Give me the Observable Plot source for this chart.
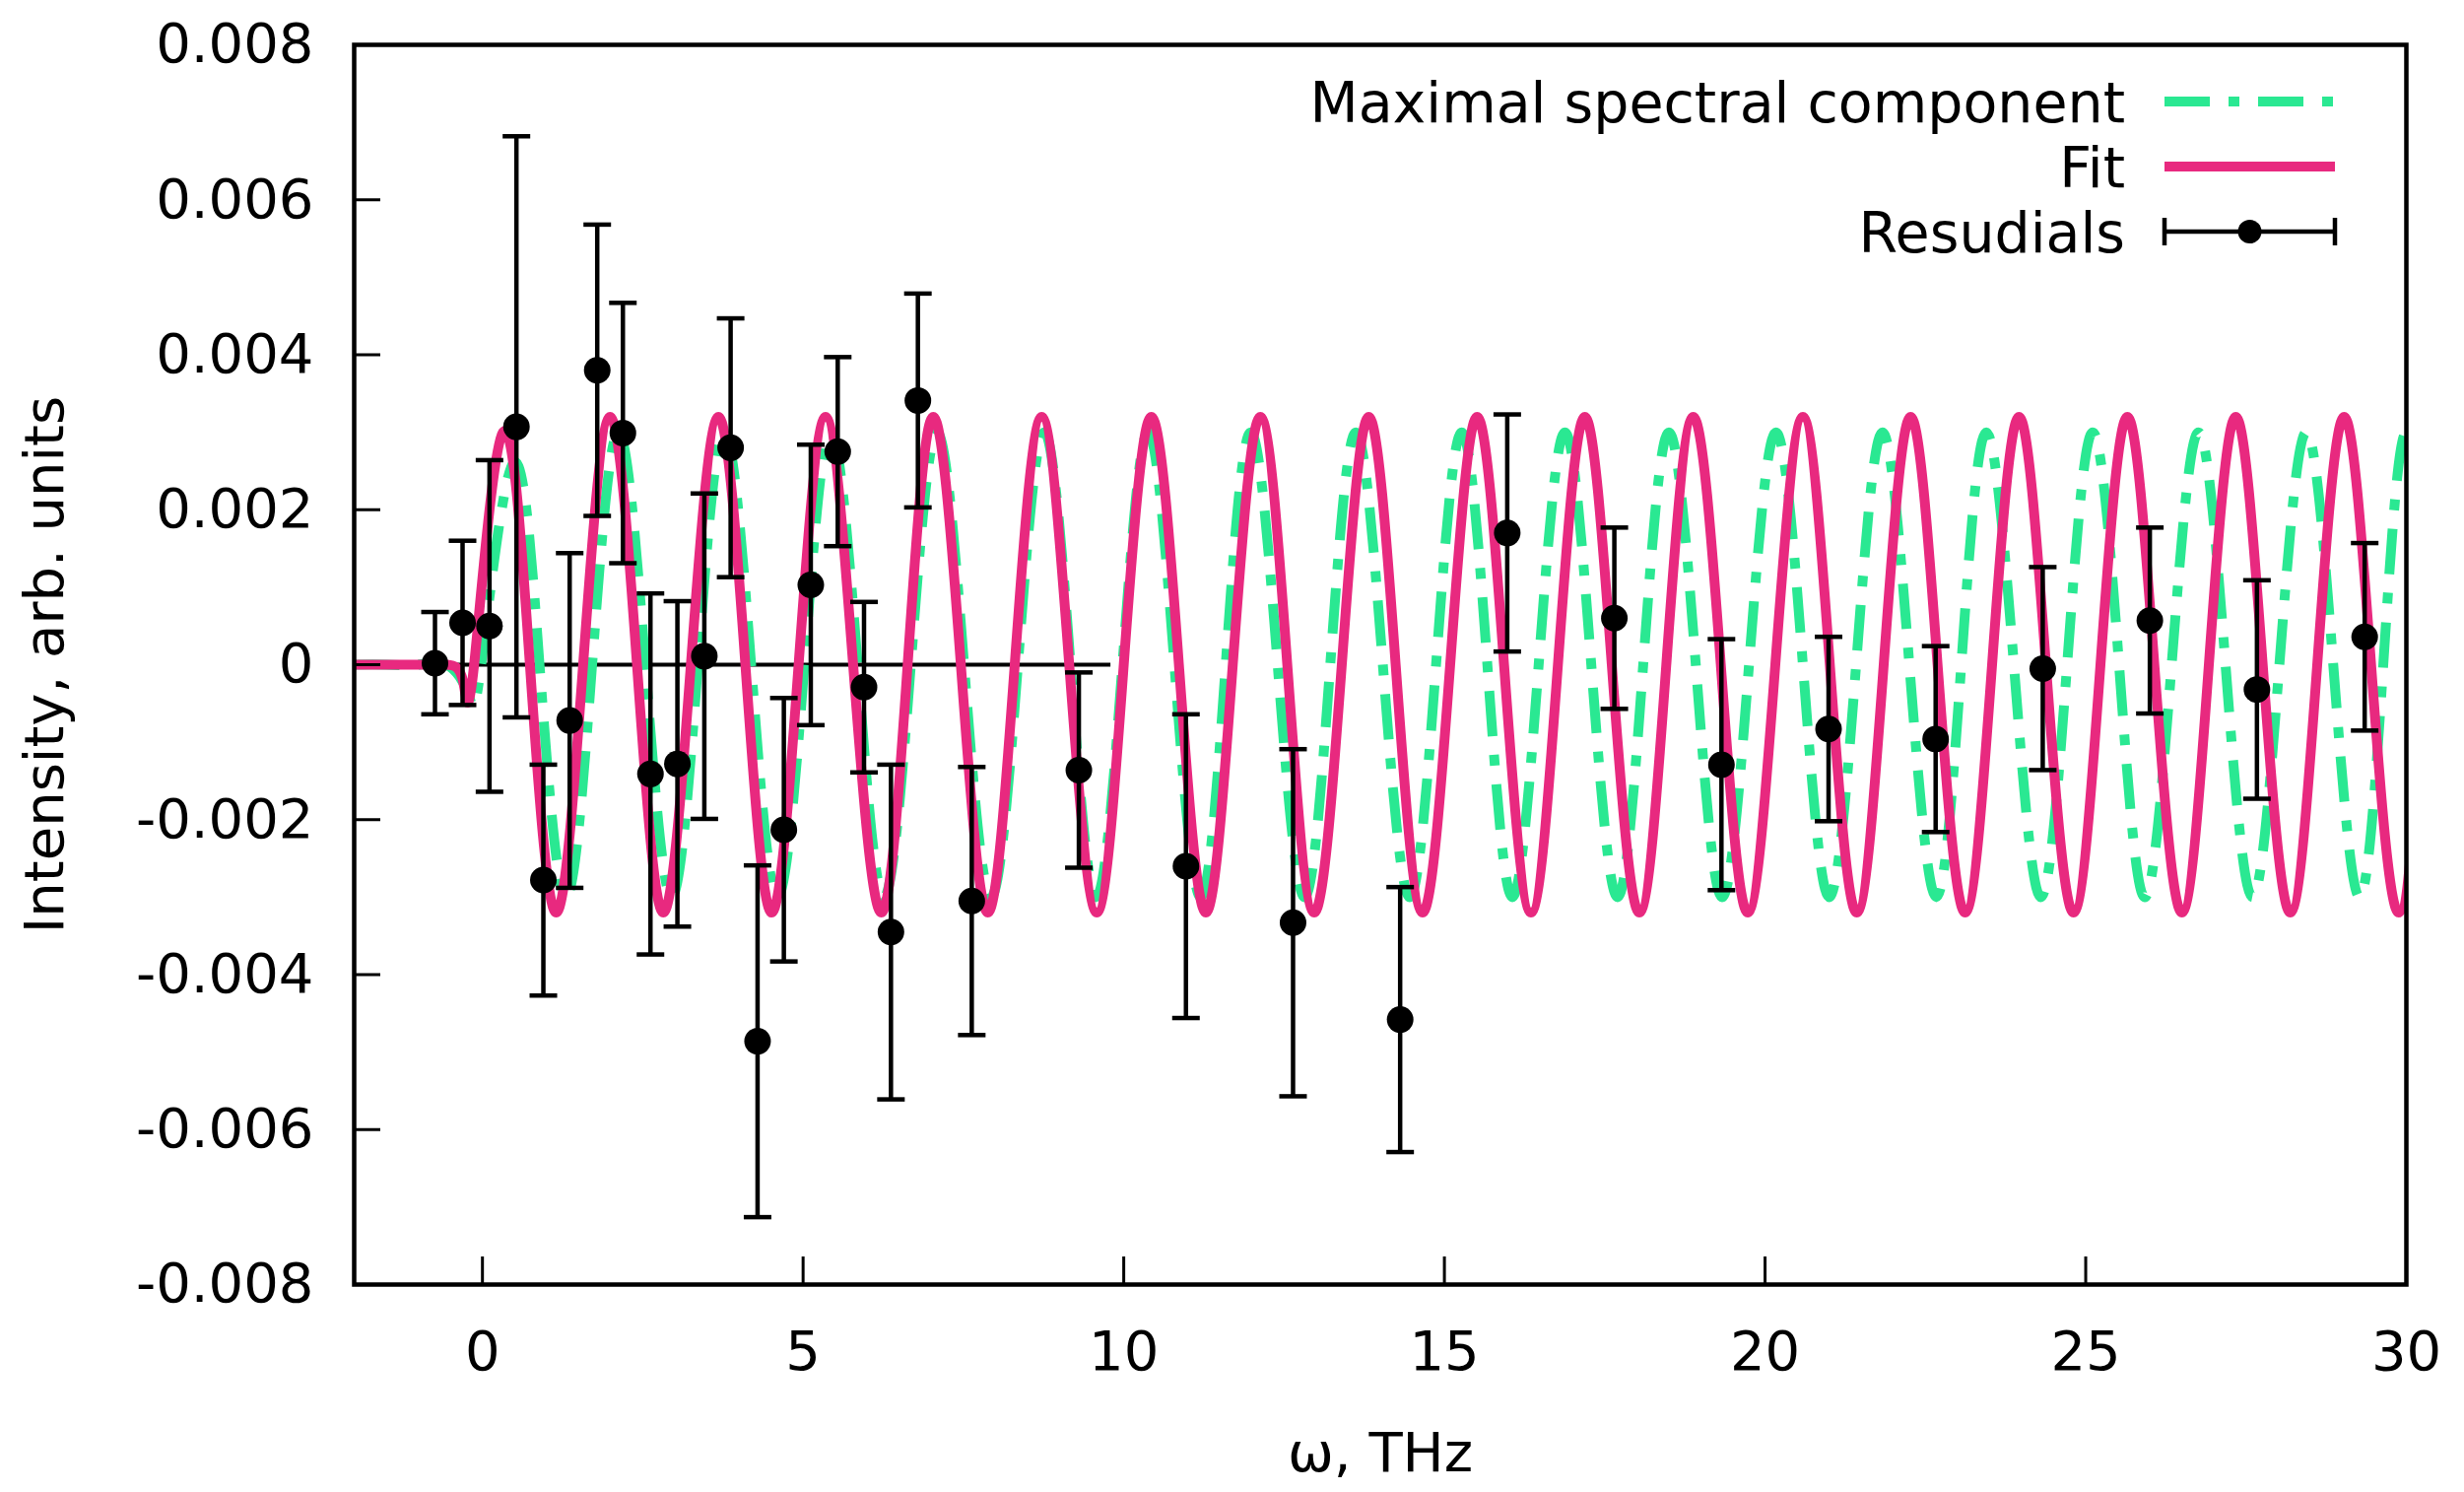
<!DOCTYPE html>
<html>
<head>
<meta charset="utf-8">
<script src="https://cdn.jsdelivr.net/npm/d3@7"></script>
<script src="https://cdn.jsdelivr.net/npm/@observablehq/plot@0.6"></script>
<style>
  html, body { margin: 0; padding: 0; background: #fff; }
  #chart svg { display: block; }
</style>
</head>
<body>
<div id="chart"></div>
<script>
// ---------- data ----------
const seriesNames = ["Maximal spectral component", "Fit", "Resudials"];
const xLabel = "ω, THz";
const yLabel = "Intensity, arb. units";
const xTicks = [0, 5, 10, 15, 20, 25, 30];
const yTicks = [-0.008, -0.006, -0.004, -0.002, 0, 0.002, 0.004, 0.006, 0.008];

// Fit curve (peaks, troughs and zero crossings)
const fitX = [-2, -1.5, -1, -0.56, -0.3, -0.13, 0.32, 0.74, 1.15, 1.57, 1.99, 2.41, 2.82, 3.25, 3.68, 4.10, 4.51, 4.93, 5.35, 5.78, 6.22, 6.63, 7.03, 7.46, 7.88, 8.30, 8.72, 9.15, 9.58, 10.00, 10.43, 10.86, 11.28, 11.70, 12.13, 12.55, 12.97, 13.40, 13.82, 14.24, 14.66, 15.09, 15.51, 15.93, 16.35, 16.77, 17.19, 17.61, 18.04, 18.46, 18.88, 19.31, 19.73, 20.16, 20.59, 21.01, 21.43, 21.85, 22.27, 22.69, 23.12, 23.54, 23.96, 24.38, 24.81, 25.23, 25.65, 26.07, 26.50, 26.92, 27.34, 27.76, 28.19, 28.61, 29.03, 29.45, 29.88, 30.30];
const fitY = [0, 0, 0, 0, -0.00022, 0, 0.0030, 0, -0.0032, 0, 0.0032, 0, -0.0032, 0, 0.0032, 0, -0.0032, 0, 0.0032, 0, -0.0032, 0, 0.0032, 0, -0.0032, 0, 0.0032, 0, -0.0032, 0, 0.0032, 0, -0.0032, 0, 0.0032, 0, -0.0032, 0, 0.0032, 0, -0.0032, 0, 0.0032, 0, -0.0032, 0, 0.0032, 0, -0.0032, 0, 0.0032, 0, -0.0032, 0, 0.0032, 0, -0.0032, 0, 0.0032, 0, -0.0032, 0, 0.0032, 0, -0.0032, 0, 0.0032, 0, -0.0032, 0, 0.0032, 0, -0.0032, 0, 0.0032, 0, -0.0032, 0];

// Maximal spectral component
const specX = [-2, -1.5, -1, -0.56, -0.22, -0.02, 0.48, 0.89, 1.30, 1.71, 2.12, 2.54, 2.95, 3.36, 3.77, 4.19, 4.60, 5.02, 5.43, 5.85, 6.26, 6.68, 7.09, 7.51, 7.93, 8.35, 8.76, 9.17, 9.57, 9.98, 10.38, 10.79, 11.20, 11.59, 11.98, 12.40, 12.82, 13.22, 13.62, 14.04, 14.46, 14.87, 15.27, 15.67, 16.06, 16.47, 16.88, 17.29, 17.70, 18.10, 18.50, 18.92, 19.33, 19.75, 20.17, 20.59, 21.00, 21.42, 21.83, 22.25, 22.67, 23.06, 23.45, 23.88, 24.30, 24.71, 25.11, 25.52, 25.92, 26.34, 26.76, 27.18, 27.60, 28.02, 28.44, 28.86, 29.27, 29.64, 30.00, 30.41];
const specY = [0, 0, 0, 0, -0.00038, 0, 0.0026, 0, -0.0030, 0, 0.0030, 0, -0.0030, 0, 0.0030, 0, -0.0030, 0, 0.0030, 0, -0.0030, 0, 0.0030, 0, -0.0030, 0, 0.0030, 0, -0.0030, 0, 0.0030, 0, -0.0030, 0, 0.0030, 0, -0.0030, 0, 0.0030, 0, -0.0030, 0, 0.0030, 0, -0.0030, 0, 0.0030, 0, -0.0030, 0, 0.0030, 0, -0.0030, 0, 0.0030, 0, -0.0030, 0, 0.0030, 0, -0.0030, 0, 0.0030, 0, -0.0030, 0, 0.0030, 0, -0.0030, 0, 0.0030, 0, -0.0030, 0, 0.0030, 0, -0.0030, 0, 0.0030, 0];

// Residuals with error bars
const resX = [-0.74, -0.31, 0.11, 0.53, 0.95, 1.36, 1.79, 2.19, 2.62, 3.04, 3.46, 3.87, 4.29, 4.70, 5.12, 5.54, 5.95, 6.37, 6.79, 7.63, 9.30, 10.97, 12.64, 14.31, 15.98, 17.65, 19.32, 20.99, 22.66, 24.33, 26.00, 27.67, 29.35];
const resY = [0.00002, 0.00054, 0.00050, 0.00307, -0.00278, -0.00072, 0.00380, 0.00299, -0.00141, -0.00128, 0.00011, 0.00280, -0.00486, -0.00213, 0.00103, 0.00275, -0.00029, -0.00345, 0.00341, -0.00305, -0.00136, -0.00260, -0.00333, -0.00458, 0.00170, 0.00060, -0.00129, -0.00083, -0.00096, -0.00005, 0.00057, -0.00032, 0.00036];
const resErr = [0.00066, 0.00106, 0.00214, 0.00375, 0.00149, 0.00216, 0.00188, 0.00168, 0.00233, 0.00210, 0.00210, 0.00167, 0.00227, 0.00170, 0.00181, 0.00122, 0.00110, 0.00216, 0.00138, 0.00173, 0.00126, 0.00196, 0.00224, 0.00171, 0.00153, 0.00117, 0.00162, 0.00119, 0.00120, 0.00131, 0.00120, 0.00141, 0.00121];

// zero reference line of the residual panel
const zeroLineX = [-1, 9.8];

// ---------- styling ----------
const GREEN = "#2ae892";
const PINK = "#e8297f";
const FONT = "DejaVu Sans";
const W = 2501, H = 1514;
const mL = 359, mR = 59, mT = 45, mB = 211;
const plotW = W - mL - mR, plotH = H - mT - mB;

const fit = fitX.map((x, i) => ({x, y: fitY[i]}));
const spec = specX.map((x, i) => ({x, y: specY[i]}));
const res = resX.map((x, i) => ({x, y: resY[i], lo: resY[i] - resErr[i], hi: resY[i] + resErr[i]}));
const zeroLine = [{x1: zeroLineX[0], x2: zeroLineX[1], y: 0}];

const capSymbol = {
  draw(ctx, size) {
    const r = Math.sqrt(size / Math.PI);
    ctx.moveTo(-r, 0);
    ctx.lineTo(r, 0);
  }
};

const chart = Plot.plot({
  width: W, height: H,
  marginLeft: mL, marginRight: mR, marginTop: mT, marginBottom: mB,
  x: {domain: [-2, 30]},
  y: {domain: [-0.008, 0.008]},
  style: {fontFamily: FONT, fontSize: "56px", color: "black", background: "white"},
  marks: [
    Plot.ruleY(zeroLine, {x1: "x1", x2: "x2", y: "y", stroke: "black", strokeWidth: 4}),
    Plot.line(spec, {x: "x", y: "y", curve: "natural", stroke: GREEN, strokeWidth: 10,
      strokeDasharray: "46,19,11,19", strokeLinecap: "butt", clip: true}),
    Plot.line(fit, {x: "x", y: "y", curve: "natural", stroke: PINK, strokeWidth: 10, clip: true}),
    Plot.ruleX(res, {x: "x", y1: "lo", y2: "hi", stroke: "black", strokeWidth: 4.5}),
    Plot.dot(res, {x: "x", y: "lo", symbol: capSymbol, r: 14, fill: "none", stroke: "black", strokeWidth: 4.5}),
    Plot.dot(res, {x: "x", y: "hi", symbol: capSymbol, r: 14, fill: "none", stroke: "black", strokeWidth: 4.5}),
    Plot.dot(res, {x: "x", y: "y", r: 13.5, fill: "black", stroke: "none"}),
    Plot.tickX(xTicks, {x: d => d, insetTop: plotH - 28, stroke: "black", strokeWidth: 3}),
    Plot.tickY(yTicks, {y: d => d, insetRight: plotW - 27, stroke: "black", strokeWidth: 3}),
    Plot.axisX({ticks: xTicks, tickSize: 0, tickPadding: 47, fontSize: 56, label: null, tickFormat: d => String(d)}),
    Plot.axisY({ticks: yTicks, tickSize: 0, tickPadding: 41, fontSize: 56, label: null,
      tickFormat: d => d === 0 ? "0" : d.toFixed(3)}),
    Plot.text([xLabel], {text: d => d, frameAnchor: "bottom", dy: 189, lineAnchor: "bottom", fontSize: 56}),
    Plot.text([yLabel], {text: d => d, frameAnchor: "left", dx: 63 - mL, rotate: -90, lineAnchor: "bottom", textAnchor: "middle", fontSize: 56}),
    Plot.frame({stroke: "black", strokeWidth: 4.5})
  ]
});

// ---------- legend (inside the frame, top right) ----------
const svg = d3.select(chart);
const lg = svg.append("g").style("font-family", FONT).style("font-size", "57px");
const textRight = 2157, s0 = 2197, s1 = 2370;
const rowY = [103, 169, 235];
seriesNames.forEach((name, i) => {
  const cy = rowY[i];
  lg.append("text").attr("x", textRight).attr("y", cy + 21).attr("text-anchor", "end")
    .attr("fill", "black").text(name);
  if (i === 0) {
    lg.append("line").attr("x1", s0).attr("x2", s1).attr("y1", cy).attr("y2", cy)
      .attr("stroke", GREEN).attr("stroke-width", 10).attr("stroke-dasharray", "46,19,11,19");
  } else if (i === 1) {
    lg.append("line").attr("x1", s0).attr("x2", s1).attr("y1", cy).attr("y2", cy)
      .attr("stroke", PINK).attr("stroke-width", 10);
  } else {
    lg.append("line").attr("x1", s0).attr("x2", s1).attr("y1", cy).attr("y2", cy)
      .attr("stroke", "black").attr("stroke-width", 4.5);
    [s0, s1].forEach(x => lg.append("line").attr("x1", x).attr("x2", x)
      .attr("y1", cy - 14).attr("y2", cy + 14).attr("stroke", "black").attr("stroke-width", 4.5));
    lg.append("circle").attr("cx", (s0 + s1) / 2).attr("cy", cy).attr("r", 12).attr("fill", "black");
  }
});

document.getElementById("chart").appendChild(chart);
</script>
</body>
</html>
